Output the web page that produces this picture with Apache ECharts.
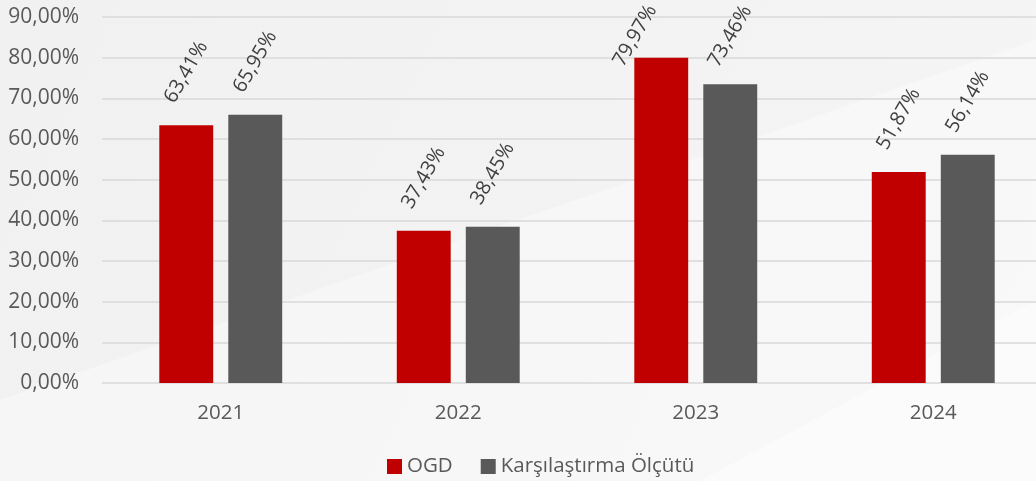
<!DOCTYPE html>
<html><head><meta charset="utf-8">
<script src="https://cdn.jsdelivr.net/npm/echarts@6/dist/echarts.min.js"></script>
<style>html,body{margin:0;padding:0;background:#f4f4f4}#c{width:1036px;height:481px}</style>
</head><body><div id="c"></div>
<script>
var categories = ['2021', '2022', '2023', '2024'];
var ogd = [63.41, 37.43, 79.97, 51.87];
var benchmark = [65.95, 38.45, 73.46, 56.14];
var seriesNames = ['OGD', 'Karşılaştırma Ölçütü'];
var yTicks = [0, 10, 20, 30, 40, 50, 60, 70, 80, 90];

function fmt(v) { return v.toFixed(2).replace('.', ',') + '%'; }
var font = '"Open Sans", "DejaVu Sans", sans-serif';
var ROT = 60;
var labelCfg = {
  show: true, position: 'top', distance: 53, rotate: ROT,
  align: 'center', verticalAlign: 'middle',
  color: '#404040', fontSize: 20, fontFamily: font,
  formatter: function (p) { return fmt(p.value); }
};
// screen offset -> offset in the rotated label frame
function rotOffset(dx, dy) {
  var t = ROT * Math.PI / 180;
  return [dx * Math.cos(t) - dy * Math.sin(t), dx * Math.sin(t) + dy * Math.cos(t)];
}
// keep labels inside the chart area near the top edge (as the original does)
function withLabels(values) {
  return values.map(function (v) {
    var room = 90 - v;
    if (room < 12) {
      return {value: v, label: {distance: 0, offset: rotOffset(-26, -22)}};
    }
    if (room < 18) {
      return {value: v, label: {distance: 48}};
    }
    return v;
  });
}
var chart = echarts.init(document.getElementById('c'));
chart.setOption({
  backgroundColor: {
    type: 'linear', x: 0, y: 0, x2: 1, y2: 1,
    colorStops: [{offset: 0, color: '#f1f1f1'}, {offset: 0.6, color: '#f3f3f3'}, {offset: 1, color: '#f6f6f6'}]
  },
  graphic: [
    {type: 'polygon', z: -10, silent: true,
     shape: {points: [[0, 481], [0, 400], [1036, 40], [1036, 481]]},
     style: {fill: 'rgba(255,255,255,0.35)'}},
    {type: 'polygon', z: -10, silent: true,
     shape: {points: [[700, 481], [1036, 300], [1036, 481]]},
     style: {fill: 'rgba(255,255,255,0.4)'}}
  ],
  animation: false,
  textStyle: {fontFamily: font},
  grid: {left: 102, width: 950, top: 17, height: 366, containLabel: false, outerBoundsMode: 'none'},
  legend: {
    top: 456, left: 387, padding: 0, itemWidth: 15, itemHeight: 15, itemGap: 28, itemTextGap: 5,
    icon: 'rect', textStyle: {color: '#595959', fontSize: 20.5, fontFamily: font},
    data: seriesNames
  },
  xAxis: {
    type: 'category', data: categories,
    axisLine: {show: false}, axisTick: {show: false},
    axisLabel: {color: '#595959', fontSize: 20.5, margin: 20, fontFamily: font}
  },
  yAxis: {
    type: 'value', min: yTicks[0], max: yTicks[yTicks.length - 1], interval: 10,
    axisLine: {show: false}, axisTick: {show: false},
    axisLabel: {color: '#595959', fontSize: 21, margin: 23, fontFamily: font, formatter: fmt},
    splitLine: {lineStyle: {color: '#d9d9d9', width: 1.5}}
  },
  series: [
    {name: seriesNames[0], type: 'bar', data: withLabels(ogd), barWidth: '22.7%', barGap: '28%',
     itemStyle: {color: '#c00000'}, label: labelCfg},
    {name: seriesNames[1], type: 'bar', data: withLabels(benchmark), barWidth: '22.7%', barGap: '28%',
     itemStyle: {color: '#595959'}, label: labelCfg}
  ]
});
</script></body></html>
